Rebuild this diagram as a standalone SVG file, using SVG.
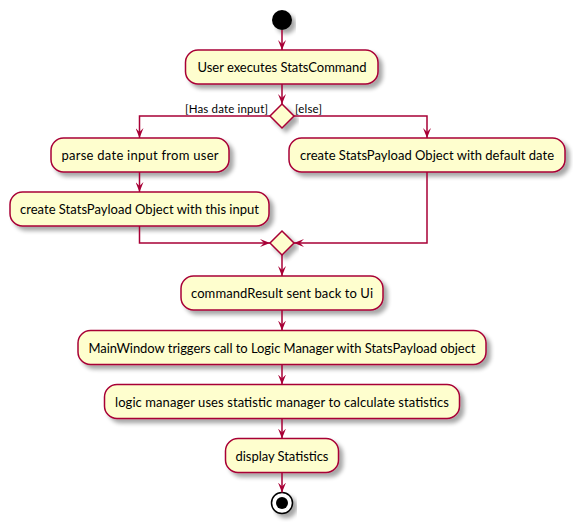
<svg xmlns="http://www.w3.org/2000/svg" width="573" height="524" viewBox="0 0 573 524">
<defs>
<filter id="sh" x="-10%" y="-20%" width="130%" height="160%">
<feGaussianBlur in="SourceAlpha" stdDeviation="2"/>
<feOffset dx="4" dy="4" result="b"/>
<feComponentTransfer><feFuncA type="linear" slope="0.35"/></feComponentTransfer>
<feMerge><feMergeNode/><feMergeNode in="SourceGraphic"/></feMerge>
</filter>
<marker id="ar" viewBox="0 0 10 8" refX="10" refY="4" markerWidth="10" markerHeight="8" markerUnits="userSpaceOnUse" orient="auto">
<polygon points="0,0 10,4 0,8 4,4" fill="#A80036"/>
</marker>
</defs>
<style>
.box{fill:#FEFECE;stroke:#A80036;stroke-width:1.5;filter:url(#sh)}
.dia{fill:#FEFECE;stroke:#A80036;stroke-width:1.5;filter:url(#sh)}
.t{font-family:Lato,"Liberation Sans",Arial,sans-serif;font-size:13px;fill:#000;text-anchor:middle}
.g{font-family:Lato,"Liberation Sans",Arial,sans-serif;font-size:11.5px;fill:#000}
.c{fill:none;stroke:#A80036;stroke-width:1.5;marker-end:url(#ar)}
</style>
<rect width="573" height="524" fill="#fff"/>
<g id="start"><circle cx="282" cy="20" r="10" fill="#000" filter="url(#sh)"/></g>
<g id="n1"><rect class="box" x="185.5" y="50" width="192.5" height="34" rx="12.5"/><text class="t" x="282" y="72" textLength="169" lengthAdjust="spacing">User executes StatsCommand</text></g>
<g id="d1"><polygon class="dia" points="282,104 294,116 282,128 270,116"/></g>
<g id="n2"><rect class="box" x="51" y="138" width="178" height="34" rx="12.5"/><text class="t" x="140" y="160" textLength="157" lengthAdjust="spacing">parse date input from user</text></g>
<g id="n3"><rect class="box" x="10" y="192" width="259" height="34" rx="12.5"/><text class="t" x="139.5" y="214" textLength="239" lengthAdjust="spacing">create StatsPayload Object with this input</text></g>
<g id="n4"><rect class="box" x="289" y="138" width="276" height="34" rx="12.5"/><text class="t" x="427" y="160" textLength="254" lengthAdjust="spacing">create StatsPayload Object with default date</text></g>
<g id="d2"><polygon class="dia" points="282,231 294,243 282,255 270,243"/></g>
<g id="n5"><rect class="box" x="181" y="276" width="202" height="34" rx="12.5"/><text class="t" x="282" y="298" textLength="182" lengthAdjust="spacing">commandResult sent back to Ui</text></g>
<g id="n6"><rect class="box" x="78" y="330.5" width="408" height="34" rx="12.5"/><text class="t" x="282" y="352.5" textLength="387" lengthAdjust="spacing">MainWindow triggers call to Logic Manager with StatsPayload object</text></g>
<g id="n7"><rect class="box" x="104.5" y="384.5" width="355" height="34" rx="12.5"/><text class="t" x="282" y="406.5" textLength="334" lengthAdjust="spacing">logic manager uses statistic manager to calculate statistics</text></g>
<g id="n8"><rect class="box" x="225.5" y="438.5" width="113" height="34" rx="12.5"/><text class="t" x="282" y="460.5" textLength="93" lengthAdjust="spacing">display Statistics</text></g>
<g id="end"><circle cx="282" cy="503" r="10.5" fill="#fff" stroke="#000" stroke-width="1.5" filter="url(#sh)"/><circle cx="282" cy="503" r="6" fill="#000"/></g>
<g id="connectors">
<path class="c" d="M282,30 V50"/>
<path class="c" d="M282,84 V104"/>
<path class="c" d="M270,116 H139.5 V138"/>
<path class="c" d="M294,116 H427 V138"/>
<path class="c" d="M139.5,172 V192"/>
<path class="c" d="M139.5,226 V243 H270"/>
<path class="c" d="M427,172 V243 H294"/>
<path class="c" d="M282,255 V276"/>
<path class="c" d="M282,310 V330.5"/>
<path class="c" d="M282,364.5 V384.5"/>
<path class="c" d="M282,418.5 V438.5"/>
<path class="c" d="M282,472.5 V492.5"/>
<text class="g" x="268" y="113" text-anchor="end" textLength="83" lengthAdjust="spacing">[Has date input]</text>
<text class="g" x="295" y="113" textLength="27" lengthAdjust="spacing">[else]</text>
</g>
</svg>
